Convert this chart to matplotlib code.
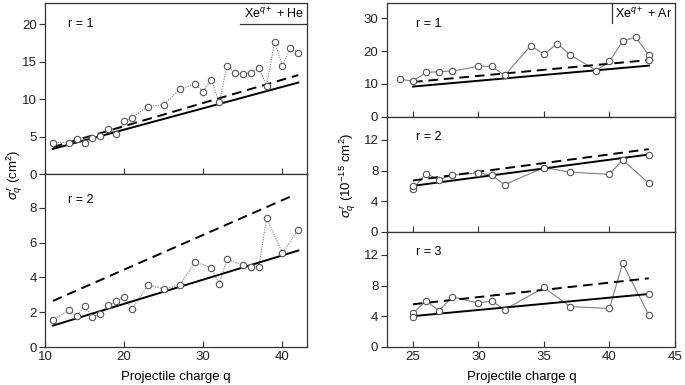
"""Partial cross sections sigma_q^r for Xe^q+ on He and Ar, by projectile charge."""

import matplotlib
matplotlib.use("Agg")
import matplotlib.pyplot as plt
import numpy as np

plt.rcParams["font.family"] = ["Liberation Sans", "DejaVu Sans"]
plt.rcParams["mathtext.fontset"] = "custom"
plt.rcParams["mathtext.rm"] = "Liberation Sans"
plt.rcParams["mathtext.it"] = "Liberation Sans:italic"
plt.rcParams["font.size"] = 9.5

# Xe + He, r = 1 (measured)
he1_q = [11, 13, 14, 15, 16, 17, 18, 19, 20, 21, 23, 25, 27, 29, 30, 31, 32,
         33, 34, 35, 36, 37, 38, 39, 40, 41, 42]
he1_v = [4.2, 4.2, 4.7, 4.1, 4.75, 5.1, 6.0, 5.3, 7.1, 7.5, 9.0, 9.25, 11.3,
         12.0, 11.0, 12.6, 9.55, 14.4, 13.5, 13.4, 13.5, 14.2, 11.8, 17.6,
         14.4, 16.8, 16.2]
he1_solid = ([11, 42], [3.35, 12.2])
he1_dash = ([11, 42], [3.6, 13.2])

# Xe + He, r = 2
he2_q = [11, 13, 14, 15, 16, 17, 18, 19, 20, 21, 23, 25, 27, 29, 31, 32, 33,
         35, 36, 37, 38, 40, 42]
he2_v = [1.55, 2.1, 1.8, 2.35, 1.7, 1.9, 2.4, 2.65, 2.85, 2.2, 3.55, 3.35,
         3.55, 4.9, 4.55, 3.65, 5.05, 4.7, 4.6, 4.6, 7.4, 5.4, 6.75]
he2_solid = ([11, 42], [1.23, 5.55])
he2_dash = ([11, 41], [2.65, 8.65])

# Xe + Ar, r = 1
ar1_q = [24, 25, 26, 27, 28, 30, 31, 32, 34, 35, 36, 37, 39, 40, 41, 42, 43]
ar1_v = [11.4, 10.9, 13.5, 13.8, 13.9, 15.4, 15.4, 12.6, 21.7, 19.0, 22.3,
         18.9, 14.1, 16.9, 23.0, 24.3, 18.8]
ar1_extra = ([43], [17.2])
ar1_solid = ([25, 43], [9.2, 15.6])
ar1_dash = ([25, 43], [10.6, 17.3])

# Xe + Ar, r = 2
ar2_q = [25, 26, 27, 28, 30, 31, 32, 35, 37, 40, 41, 43]
ar2_v = [5.6, 7.6, 6.8, 7.4, 7.7, 7.4, 6.15, 8.4, 7.8, 7.5, 9.4, 6.35]
ar2_extra = ([25, 43], [6.0, 10.0])
ar2_solid = ([25, 43], [6.0, 10.1])
ar2_dash = ([25, 43], [6.7, 10.8])

# Xe + Ar, r = 3
ar3_q = [25, 26, 27, 28, 30, 31, 32, 35, 37, 40, 41, 43]
ar3_v = [4.35, 6.0, 4.7, 6.55, 5.7, 6.0, 4.85, 7.75, 5.25, 5.0, 10.9, 4.15]
ar3_extra = ([25, 43], [3.9, 6.95])
ar3_solid = ([25, 43], [4.0, 6.9])
ar3_dash = ([25, 43], [5.55, 8.95])

GRAY = "#808080"
SPINE = "#333333"


def style_axes(ax, xlim, ylim, yticks, xticks, show_xlabels):
    ax.set_xlim(*xlim)
    ax.set_ylim(*ylim)
    ax.set_yticks(yticks)
    ax.set_xticks(xticks)
    ax.tick_params(axis="y", direction="out", length=4, width=0.8, colors=SPINE,
                   labelcolor="#222222", pad=2)
    ax.tick_params(axis="x", direction="in", length=4, width=0.8, colors=SPINE,
                   labelcolor="#222222", labelbottom=show_xlabels, pad=3)
    for s in ax.spines.values():
        s.set_color(SPINE)
        s.set_linewidth(0.9)


def draw_panel(ax, q, v, solid, dash, ls, extra=None):
    ax.plot(q, v, color=GRAY, lw=0.8, ls=ls, zorder=2)
    ax.plot(*dash, color="black", lw=1.4, ls=(0, (5, 3)), zorder=3)
    ax.plot(*solid, color="black", lw=1.4, zorder=3)
    mk = dict(ls="none", marker="o", ms=4.6, mfc="white", mec="#555555",
              mew=0.8, zorder=4)
    ax.plot(q, v, **mk)
    if extra is not None:
        ax.plot(*extra, **mk)


fig = plt.figure(figsize=(6.85, 3.85), dpi=100)

lx, lw_ = 0.0657, 0.3825
ax_he1 = fig.add_axes([lx, 0.548, lw_, 0.444])
ax_he2 = fig.add_axes([lx, 0.0987, lw_, 0.4493])
rx, rw = 0.5645, 0.4209
ax_ar1 = fig.add_axes([rx, 0.6969, rw, 0.2951])
ax_ar2 = fig.add_axes([rx, 0.3982, rw, 0.2987])
ax_ar3 = fig.add_axes([rx, 0.0995, rw, 0.2987])

dotted = (0, (1, 1.2))
draw_panel(ax_he1, he1_q, he1_v, he1_solid, he1_dash, dotted)
draw_panel(ax_he2, he2_q, he2_v, he2_solid, he2_dash, dotted)
draw_panel(ax_ar1, ar1_q, ar1_v, ar1_solid, ar1_dash, "-", ar1_extra)
draw_panel(ax_ar2, ar2_q, ar2_v, ar2_solid, ar2_dash, "-", ar2_extra)
draw_panel(ax_ar3, ar3_q, ar3_v, ar3_solid, ar3_dash, "-", ar3_extra)

style_axes(ax_he1, (10, 43.1), (0, 22.8), [0, 5, 10, 15, 20], [10, 20, 30, 40], False)
style_axes(ax_he2, (10, 43.1), (0, 9.95), [0, 2, 4, 6, 8], [10, 20, 30, 40], True)
style_axes(ax_ar1, (23, 45), (0, 34.7), [0, 10, 20, 30], [25, 30, 35, 40, 45], False)
style_axes(ax_ar2, (23, 45), (0, 15.05), [0, 4, 8, 12], [25, 30, 35, 40, 45], False)
style_axes(ax_ar3, (23, 45), (0, 15.05), [0, 4, 8, 12], [25, 30, 35, 40, 45], True)

for ax, lab, y in [(ax_he1, "r = 1", 0.877), (ax_he2, "r = 2", 0.85),
                   (ax_ar1, "r = 1", 0.815), (ax_ar2, "r = 2", 0.82),
                   (ax_ar3, "r = 3", 0.82)]:
    x = 0.088 if ax in (ax_he1, ax_he2) else 0.10
    ax.text(x, y, lab, transform=ax.transAxes, va="center", ha="left", fontsize=9)

# system labels
ax_he1.text(0.99, 0.935, r"Xe$^{q+}$ + He", transform=ax_he1.transAxes,
            ha="right", va="center", fontsize=9)
ax_he1.plot([0.744, 1.0], [0.877, 0.877], transform=ax_he1.transAxes,
            color=SPINE, lw=0.9, clip_on=False)
ax_ar1.text(0.99, 0.905, r"Xe$^{q+}$ + Ar", transform=ax_ar1.transAxes,
            ha="right", va="center", fontsize=9)
ax_ar1.plot([0.781, 0.781], [0.824, 1.0], transform=ax_ar1.transAxes,
            color=SPINE, lw=0.9, clip_on=False)

fig.text(0.257, 0.021, "Projectile charge q", ha="center", va="center")
fig.text(0.762, 0.021, "Projectile charge q", ha="center", va="center")
fig.text(0.021, 0.545, r"$\sigma^{\,r}_{q}$ (cm$^{2}$)", rotation=90,
         ha="center", va="center")
fig.text(0.508, 0.545, r"$\sigma^{\,r}_{q}$ (10$^{-15}$ cm$^{2}$)", rotation=90,
         ha="center", va="center")

fig.savefig("out.png", dpi=100)
